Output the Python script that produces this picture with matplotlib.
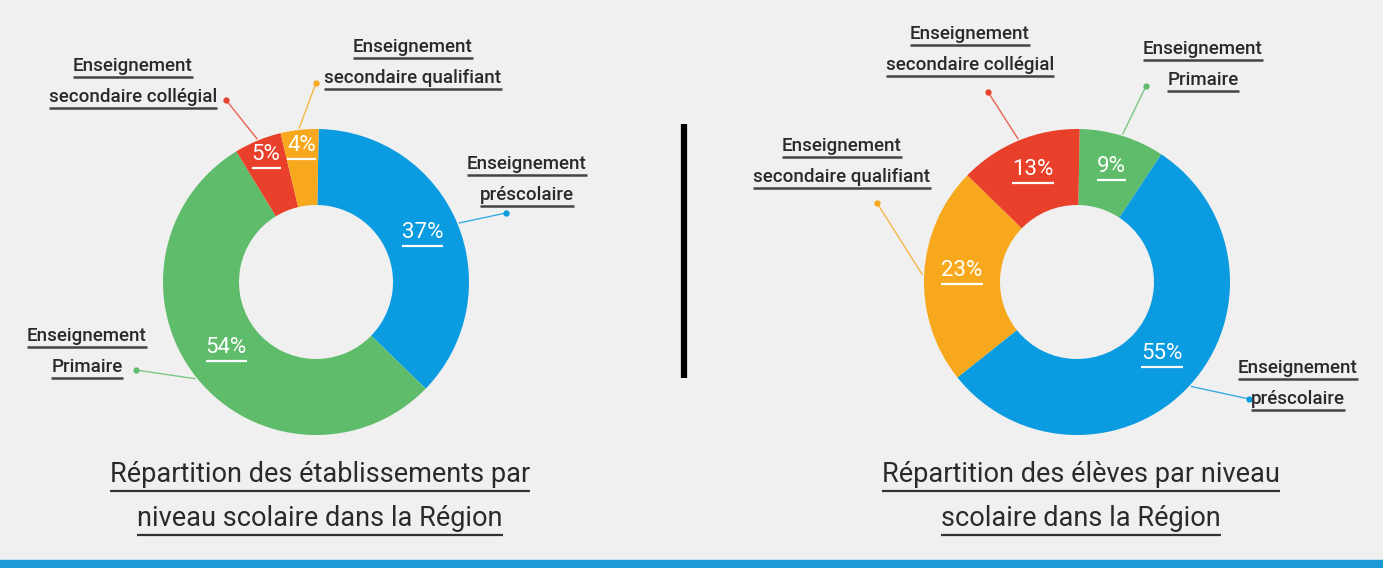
import numpy as np
import matplotlib
matplotlib.use("Agg")
import matplotlib.pyplot as plt

plt.rcParams['font.family'] = ['Roboto', 'DejaVu Sans']

# data
categories = ['préscolaire', 'Primaire', 'secondaire collégial', 'secondaire qualifiant']
colors = {'préscolaire': '#0a9be0', 'Primaire': '#5fbc6b',
          'secondaire collégial': '#e9402b', 'secondaire qualifiant': '#f7a81c'}

left_order = ['préscolaire', 'Primaire', 'secondaire collégial', 'secondaire qualifiant']
left_values = [37, 54, 5, 4]
left_title = ['Répartition des établissements par', 'niveau scolaire dans la Région']

right_order = ['Primaire', 'préscolaire', 'secondaire qualifiant', 'secondaire collégial']
right_values = [9, 55, 23, 13]
right_title = ['Répartition des élèves par niveau', 'scolaire dans la Région']

W, H = 1383, 568
BG = '#f0f0f0'
TXT = '#2a2a2a'

# layout (image pixels, y from top): label text centre x, first line y, dot position
left_layout = {
    'préscolaire': (527, 164, (506, 213)),
    'Primaire': (87, 336, (136, 370)),
    'secondaire collégial': (133, 66, (226, 100)),
    'secondaire qualifiant': (413, 47, (316, 83)),
}
right_layout = {
    'Primaire': (1203, 49, (1146, 86)),
    'préscolaire': (1298, 368, (1249, 399)),
    'secondaire qualifiant': (842, 146, (877, 203)),
    'secondaire collégial': (970, 34, (988, 92)),
}

fig = plt.figure(figsize=(W / 100, H / 100), dpi=100, facecolor=BG)
ax = fig.add_axes([0, 0, 1, 1])
ax.set_xlim(0, W)
ax.set_ylim(0, H)
ax.axis('off')
ax.set_facecolor(BG)

R = 153
RING = 76
underlines = []


def Y(y):
    return H - y


def donut(cx, cy, order, values, layout, title):
    wedges, _ = ax.pie(values, colors=[colors[c] for c in order], startangle=89,
                       counterclock=False, radius=R, center=(cx, Y(cy)),
                       wedgeprops=dict(width=RING, linewidth=0), frame=True)
    for w, cat, v in zip(wedges, order, values):
        mid = np.deg2rad((w.theta1 + w.theta2) / 2)
        rr = R - RING / 2 if v > 6 else R - 22
        t = ax.text(cx + rr * np.cos(mid), Y(cy) + rr * np.sin(mid) + 6, f'{v}%',
                    color='white', fontsize=16, ha='center', va='center')
        underlines.append((t, 'white', 1.6, 3))
        # label
        lx, ly, (dx, dy) = layout[cat]
        t1 = ax.text(lx, Y(ly), 'Enseignement', color=TXT, fontsize=13.5,
                     fontweight='medium', ha='center', va='center')
        t2 = ax.text(lx, Y(ly + 31), cat, color=TXT, fontsize=13.5,
                     fontweight='medium', ha='center', va='center')
        underlines.append((t1, '#444444', 1.8, 2))
        underlines.append((t2, '#444444', 1.8, 2))
        sx = cx + (R + 2) * np.cos(mid)
        sy = Y(cy) + (R + 2) * np.sin(mid)
        ax.plot([sx, dx], [sy, Y(dy)], color=colors[cat], lw=1, alpha=0.8)
        ax.plot(dx, Y(dy), 'o', color=colors[cat], ms=3.5)
    for i, line in enumerate(title):
        t = ax.text(cx + 4, Y(474 + 44 * i), line, color=TXT, fontsize=19.5,
                    ha='center', va='center')
        underlines.append((t, '#333333', 1.6, 3))


donut(316, 282, left_order, left_values, left_layout, left_title)
donut(1077, 282, right_order, right_values, right_layout, right_title)

ax.set_xlim(0, W)
ax.set_ylim(0, H)
ax.set_aspect('equal')

# separator and bottom strip
ax.plot([684, 684], [Y(124), Y(378)], color='black', lw=4.5, solid_capstyle='butt')
ax.axhspan(0, 8, color='#1b9ad6')

fig.canvas.draw()
r = fig.canvas.get_renderer()
for t, c, lw, off in underlines:
    bb = t.get_window_extent(renderer=r)
    yb = bb.y0 - off
    ax.plot([bb.x0, bb.x1], [yb, yb], color=c, lw=lw, solid_capstyle='butt')

fig.savefig('out.png', dpi=100, facecolor=BG)
